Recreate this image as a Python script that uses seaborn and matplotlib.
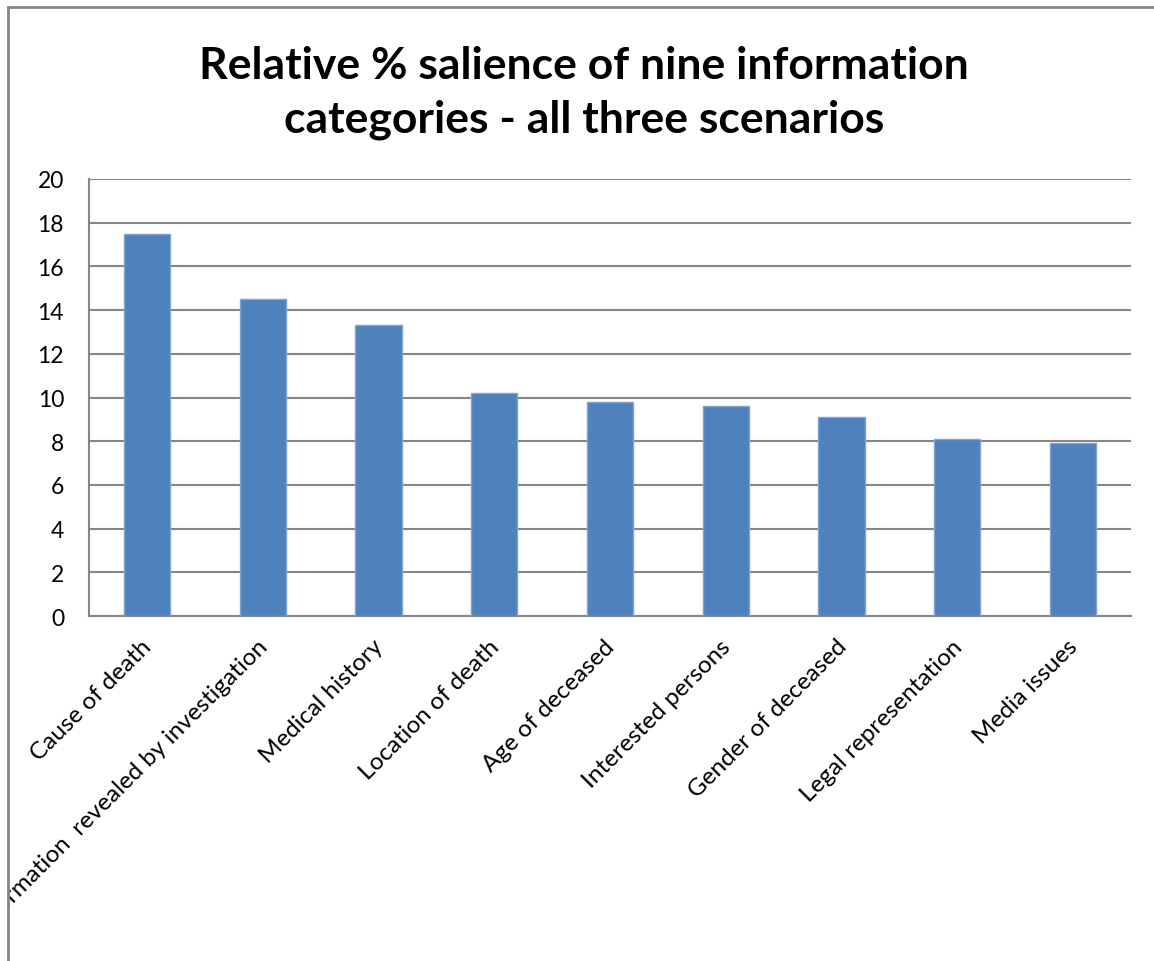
import pandas as pd
import matplotlib.pyplot as plt
import seaborn as sns
from matplotlib.patches import Rectangle
from matplotlib.transforms import Bbox, TransformedBbox, ScaledTranslation
from matplotlib.ticker import FixedLocator

# data
categories = ["Cause of death", "Information  revealed by investigation", "Medical history",
              "Location of death", "Age of deceased", "Interested persons",
              "Gender of deceased", "Legal representation", "Media issues"]
salience = [17.5, 14.5, 13.3, 10.2, 9.8, 9.6, 9.1, 8.1, 7.9]
y_ticks = [0, 2, 4, 6, 8, 10, 12, 14, 16, 18, 20]

df = pd.DataFrame({"category": categories, "salience": salience})

sns.set_style("white")
plt.rcParams['font.family'] = ['Lato', 'DejaVu Sans']

W, H = 1154, 962
fig = plt.figure(figsize=(W / 100, H / 100), dpi=100)
ax = fig.add_axes([89 / W, 1 - 617 / H, (1131 - 89) / W, (617 - 180) / H])

sns.barplot(data=df, x="category", y="salience", color="#4F81BD", saturation=1,
            width=0.4, edgecolor="#7FA3D3", linewidth=1, ax=ax, zorder=3)

grid_col = "#868686"
ax.set_ylim(0, 20)
ax.set_xlim(-0.5, len(categories) - 0.5)
ax.set_yticks(y_ticks)
ax.yaxis.grid(True, color=grid_col, linewidth=1.5, zorder=0)
ax.set_axisbelow(True)
for s in ["top", "right"]:
    ax.spines[s].set_visible(False)
for s in ["left", "bottom"]:
    ax.spines[s].set_color(grid_col)
    ax.spines[s].set_linewidth(1.5)

ax.tick_params(axis="y", length=8, width=1.5, color=grid_col, labelsize=16.5, pad=10,
               labelcolor="black")
ax.tick_params(axis="x", which="major", length=0, labelsize=17.5, pad=14, labelcolor="black")
ax.xaxis.set_minor_locator(FixedLocator([i - 0.5 for i in range(len(categories) + 1)]))
ax.tick_params(axis="x", which="minor", length=8, width=1.5, color=grid_col)
ax.set_xlabel("")
ax.set_ylabel("")

# chart border, cut by the image on the right and bottom
fig.patches.append(Rectangle((8 / W, -0.1), 1.2, 1 - 8 / H + 0.1, transform=fig.transFigure,
                             fill=False, edgecolor=grid_col, linewidth=2))

# the long label runs past the chart's left border in the reference and is cut there
clip = TransformedBbox(Bbox([[9 / W, 0], [1, 1 - 8 / H]]), fig.transFigure)
shift = ScaledTranslation(-6 / 100, 0, fig.dpi_scale_trans)
for lbl in ax.get_xticklabels():
    lbl.set_rotation(45)
    lbl.set_ha("right")
    lbl.set_va("top")
    lbl.set_rotation_mode("anchor")
    lbl.set_transform(lbl.get_transform() + shift)
    lbl.set_clip_on(True)
    lbl.set_clip_box(clip)

fig.text(0.506, 1 - 93 / H, "Relative % salience of nine information\ncategories - all three scenarios",
         ha="center", va="center", fontsize=32, fontweight="bold", linespacing=1.42,
         color="black")

fig.savefig("out.png", dpi=100)
